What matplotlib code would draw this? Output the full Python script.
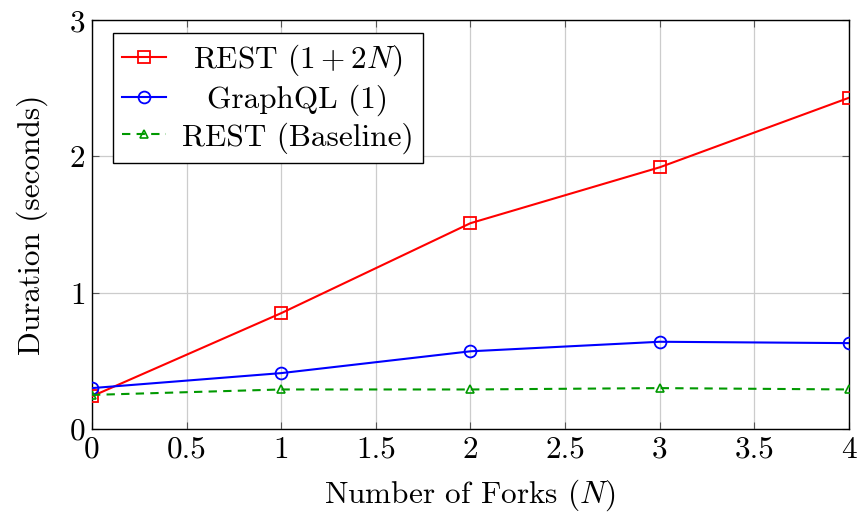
import matplotlib
matplotlib.use("Agg")
import matplotlib.pyplot as plt

plt.rcParams['font.family'] = 'serif'
plt.rcParams['font.serif'] = ['cmr10']
plt.rcParams['mathtext.fontset'] = 'cm'
plt.rcParams['axes.formatter.use_mathtext'] = True

forks = [0, 1, 2, 3, 4]
rest_values = [0.24, 0.85, 1.51, 1.92, 2.43]
graphql_values = [0.30, 0.41, 0.57, 0.64, 0.63]
baseline_values = [0.25, 0.29, 0.29, 0.30, 0.29]
x_ticks = [0, 0.5, 1, 1.5, 2, 2.5, 3, 3.5, 4]
x_tick_labels = ['0', '0.5', '1', '1.5', '2', '2.5', '3', '3.5', '4']
y_ticks = [0, 1, 2, 3]

FS = 22.5

fig = plt.figure(figsize=(8.58, 5.15), dpi=100)
ax = fig.add_axes([0.1072, 0.167, 0.8823, 0.794])

green = (0, 0.6, 0)
ax.plot(forks, rest_values, color='red', lw=1.5, marker='s', ms=8.5,
        mfc='none', mec='red', mew=1.3, label=r'REST $(1+2N)$', zorder=3)
ax.plot(forks, graphql_values, color='blue', lw=1.5, marker='o', ms=8.5,
        mfc='none', mec='blue', mew=1.3, label='GraphQL (1)', zorder=3)
ax.plot(forks, baseline_values, color=green, lw=1.5, ls=(0, (4, 3)), marker='^', ms=6,
        mfc='none', mec=green, mew=1.2, label='REST (Baseline)', zorder=3)

ax.set_xlim(0, 4)
ax.set_ylim(0, 3)
ax.set_xticks(x_ticks)
ax.set_xticklabels(x_tick_labels)
ax.set_yticks(y_ticks)
ax.tick_params(direction='in', length=5, color='#555555', labelsize=FS,
               top=True, right=True, pad=5)
ax.grid(True, color='#cccccc', lw=0.9)
ax.set_axisbelow(True)
for s in ax.spines.values():
    s.set_linewidth(1.0)
    s.set_color('black')

ax.set_xlabel(r'Number of Forks $(N)$', fontsize=FS, labelpad=10)
ax.set_ylabel('Duration (seconds)', fontsize=FS, labelpad=15)

leg = ax.legend(loc='upper left', bbox_to_anchor=(0.0277, 0.968), fontsize=FS,
                fancybox=False, framealpha=1, edgecolor='black',
                handlelength=1.4, borderaxespad=0.0, labelspacing=0.2,
                borderpad=0.3, handletextpad=0.5)
leg.get_frame().set_linewidth(1.0)

# center legend texts like pgfplots
fig.canvas.draw()
texts = leg.get_texts()
widths = [t.get_window_extent().width for t in texts]
maxw = max(widths)
for t, w in zip(texts, widths):
    t.set_position(((maxw - w) / 2.0, 0))

fig.savefig('out.png', dpi=100)
